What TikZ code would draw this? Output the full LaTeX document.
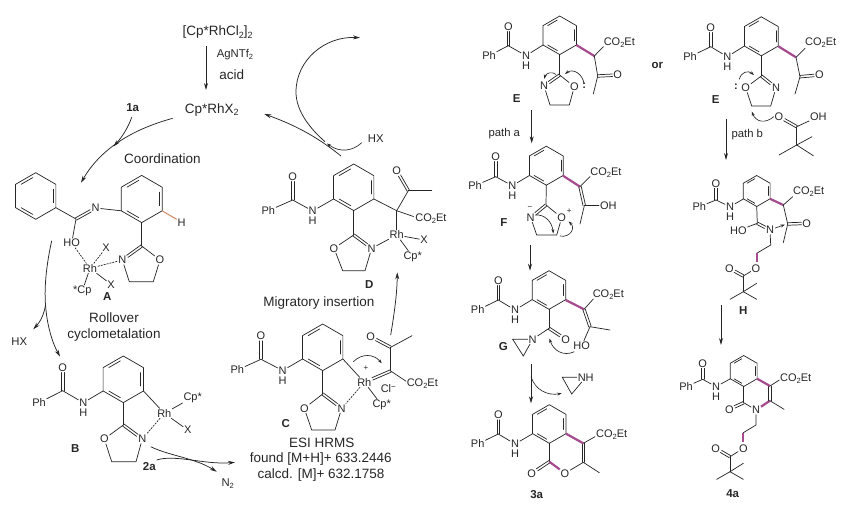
\documentclass[tikz,border=0pt]{standalone}
\usepackage{fontspec}
\setmainfont{Liberation Sans}
\usetikzlibrary{arrows.meta,calc}
\definecolor{ink}{HTML}{262626}
\definecolor{bondpink}{HTML}{A64B8E}
\definecolor{bondorange}{HTML}{D28A62}
\tikzset{
  bond/.style={draw=ink,line width=.72pt,line cap=round},
  dashbond/.style={bond,dash pattern=on 1.6pt off 1.4pt},
  pinkbond/.style={draw=bondpink,line width=2.2pt},
  rxn/.style={draw=ink,line width=.75pt,-{Stealth[length=7pt,width=4pt]}},
  curl/.style={draw=ink,line width=.65pt,-{Stealth[length=4.5pt,width=3pt]}},
  atom/.style={inner sep=.8pt,text=ink,font=\fontsize{11}{11}\selectfont},
  captxt/.style={inner sep=0pt,text=ink,font=\fontsize{13.5}{13.5}\selectfont},
  smalltxt/.style={inner sep=0pt,text=ink,font=\fontsize{11.3}{11.3}\selectfont},
  tagtxt/.style={inner sep=0pt,text=ink,font=\fontsize{11.5}{11.5}\selectfont\bfseries},
}
\newcommand\sbs[1]{\raisebox{-.35ex}{\fontsize{7.5}{7.5}\selectfont #1}}
\newcommand\sbb[1]{\raisebox{-.35ex}{\fontsize{9}{9}\selectfont #1}}
\newcommand\lb[3]{\node[atom] (#1) at (#2) {#3};}
\newcommand\bd[2]{\draw[bond] (#1) -- (#2);}
\newcommand\dbd[2]{%
  \path (#1) -- (#2) coordinate[pos=0] (dbs) coordinate[pos=1] (dbe);
  \draw[bond] ($(dbs)!1.25pt!90:(dbe)$) -- ($(dbe)!1.25pt!-90:(dbs)$);
  \draw[bond] ($(dbs)!1.25pt!-90:(dbe)$) -- ($(dbe)!1.25pt!90:(dbs)$);
}
\newcommand\pk[2]{\draw[pinkbond] (#1) -- (#2);}
\newcommand\benz[3]{%
  \draw[bond,line join=round] (#1,#2) +(-90:#3) -- +(-150:#3) -- +(150:#3) -- +(90:#3) -- +(30:#3) -- +(-30:#3) -- cycle;
  \draw[bond] (#1,#2) +(-99:{.8*#3}) -- +(-141:{.8*#3});
  \draw[bond] (#1,#2) +(21:{.8*#3}) -- +(-21:{.8*#3});
  \draw[bond] (#1,#2) +(141:{.8*#3}) -- +(99:{.8*#3});
}
% prefix, Ph, O, C, N, H, ring vertex
\newcommand\amid[7]{%
  \lb{#1ph}{#2}{Ph}\lb{#1o}{#3}{O}\lb{#1n}{#5}{N}\lb{#1h}{#6}{H}
  \bd{#1ph}{#4}\dbd{#4}{#1o}\bd{#4}{#1n}\bd{#1n}{#7}
}
% prefix, attach vertex, C, O, N, a, b
\newcommand\oxaz[7]{%
  \lb{#1ox}{#4}{O}\lb{#1nx}{#5}{N}
  \bd{#2}{#3}\bd{#3}{#1ox}\dbd{#3}{#1nx}
  \draw[bond] (#1ox) -- (#6) -- (#7) -- (#1nx);
}
\begin{document}
\begin{tikzpicture}[x=1pt,y=-1pt]
\useasboundingbox (0,0) rectangle (850,506);

% ---------- catalytic cycle, text ----------
\node[captxt] (dimer) at (217.7,32.3) {[Cp*RhCl\sbb{2}]\sbb{2}};
\node[smalltxt] (agn) at (235,54.5) {AgNTf\sbs{2}};
\node[captxt] (acid) at (231.7,75) {acid};
\node[captxt] (cat) at (211.7,110) {Cp*RhX\sbb{2}};
\node[tagtxt] (t1a) at (132.7,107.3) {1a};
\node[captxt] (coord) at (162.3,158.3) {Coordination};
\node[captxt] (roll1) at (114,318) {Rollover};
\node[captxt] (roll2) at (114,335) {cyclometalation};
\node[captxt] (migr) at (319,303.3) {Migratory insertion};
\node[captxt] (esi1) at (321.7,443.3) {ESI HRMS};
\node[captxt] (esi2) at (320.8,459.3) {found [M+H]+ 633.2446};
\node[captxt] (esi3) at (321,475.3) {calcd. [M]+ 632.1758};
\node[smalltxt] (hx1) at (19.3,341.7) {HX};
\node[smalltxt] (hx2) at (375.7,138.3) {HX};
\node[smalltxt] (n2) at (227.7,483.3) {N\sbs{2}};
\node[tagtxt] (t2a) at (149.3,466.7) {2a};

% ---------- cycle arrows ----------
\coordinate (k1) at (206,46); \coordinate (k2) at (206,90);
\draw[rxn] (k1) -- (k2);
\coordinate (k3) at (172.7,118.3); \coordinate (k4) at (81,182.7);
\draw[rxn] (k3) .. controls (130,130) and (100,150) .. (k4);
\coordinate (k5) at (131.7,117.3); \coordinate (k6) at (113.5,146.5);
\draw[rxn] (k5) .. controls (128,128) and (122,137) .. (k6);
\coordinate (k7) at (51.7,240.7); \coordinate (k8) at (45.5,305); \coordinate (k9) at (60,356.7);
\draw[rxn] (k7) .. controls (47,262) and (44,285) .. (k8) .. controls (47,325) and (52,342) .. (k9);
\coordinate (k10) at (33.3,329.3);
\draw[rxn] (k8) .. controls (44,315) and (40,322) .. (k10);
\coordinate (k11) at (150.7,446.7); \coordinate (k12) at (216.7,471.7);
\draw[rxn] (k11) .. controls (170,456) and (195,458) .. (k12);
\coordinate (k13) at (156.7,460); \coordinate (k14) at (235,462.3);
\draw[rxn] (k13) .. controls (175,454) and (205,465) .. (k14);
\coordinate (k15) at (390.7,335); \coordinate (k16) at (397.3,272.3);
\draw[rxn] (k15) .. controls (394,315) and (397,295) .. (k16);
\coordinate (k17) at (325,141.7); \coordinate (k18) at (296,92); \coordinate (k19) at (360,37.7);
\draw[rxn] (k17) .. controls (306,125) and (296,108) .. (k18) .. controls (296,60) and (325,36) .. (k19);
\coordinate (k20) at (341,156); \coordinate (k21) at (264.3,114);
\draw[rxn] (k20) .. controls (315,135) and (292,124) .. (k21);
\coordinate (k22) at (361.7,142.7); \coordinate (k23) at (327,143.5);
\draw[curl] (k22) .. controls (353,151) and (340,153) .. (k23);

% ---------- A ----------
\benz{35.7}{196}{23.3}
\benz{141.7}{199}{23.6}
\lb{an}{95.7,208}{N}
\lb{aho}{71.7,243}{HO}
\lb{ah}{181.7,222.3}{H}
\bd{55.9,207.7}{76,219}\dbd{76,219}{an}\bd{76,219}{aho}\bd{an}{121.3,210.8}
\draw[draw=bondorange,line width=1pt] (162.1,210.8) -- (ah);
\oxaz{a}{141.7,222.6}{141.7,246}{160,260}{122.3,260}{153.3,281.7}{129.3,281.7}
\lb{arh}{90,268.3}{Rh}
\lb{axa}{106,247.7}{X}
\lb{axb}{111,284.3}{X}
\lb{acp}{82.3,291}{*Cp}
\draw[dashbond] (aho) -- (arh);
\draw[dashbond] (arh) -- (anx);
\draw[dashbond] (arh) -- (axa);
\bd{arh}{acp}\bd{arh}{axb}
\node[tagtxt] (ta) at (107.3,296.7) {A};

% ---------- B ----------
\benz{123.3}{379.3}{23.3}
\amid{b}{39,402.7}{62.7,367.7}{62.7,390.7}{83.3,402.7}{83.3,412.7}{103.1,391}
\oxaz{b}{123.3,402.6}{123.3,425}{104.3,439}{142.3,439}{111.7,461.7}{136,461.7}
\lb{brh}{164.3,413.3}{Rh}\lb{bcp}{192.7,397.3}{Cp*}\lb{bx}{187.7,430}{X}
\bd{143.5,391}{brh}\bd{brh}{bcp}\bd{brh}{bx}
\draw[dashbond] (brh) -- (bnx);
\node[tagtxt] (tb) at (75.3,448.3) {B};

% ---------- C ----------
\benz{322.7}{347.3}{23.3}
\amid{c}{237.3,370}{261,336}{261,359.3}{282.7,370.5}{282.7,380.5}{302.5,359}
\oxaz{c}{322.7,370.6}{322.7,394}{304.3,408.3}{341.7,408.3}{311.7,430}{335,430}
\lb{crh}{364.3,382.3}{Rh}\lb{ccp}{381.7,405}{Cp*}
\node[atom,font=\fontsize{8}{8}\selectfont] (cplus) at (366,368.3) {+};
\lb{co}{370.7,336.7}{O}
\lb{cco}{422.3,384}{CO\sbs{2}Et}
\lb{ccl}{388.3,389}{Cl\raisebox{.6ex}{\fontsize{8}{8}\selectfont −}}
\bd{342.9,359}{crh}\bd{crh}{ccp}\draw[dashbond] (crh) -- (cnx);
\dbd{crh}{390.7,371}\bd{390.7,371}{390.7,347.3}\dbd{390.7,347.3}{co}
\bd{390.7,347.3}{412,335.7}\bd{390.7,371}{406,381.2}
\coordinate (c1) at (353.3,361.7); \coordinate (c2) at (381.7,363.3);
\draw[curl] (c1) .. controls (362,353) and (374,354) .. (c2);
\node[tagtxt] (tc) at (285.7,423.3) {C};

% ---------- D ----------
\benz{353.7}{187.3}{23.3}
\amid{d}{268.3,210.7}{292.7,176.7}{292.7,200}{312.7,211}{312.7,220.7}{333.5,199}
\oxaz{d}{353.7,210.6}{353.7,235}{334,248.3}{371.7,248.3}{342.7,270.7}{365,270.7}
\lb{drh}{396.7,235}{Rh}\lb{dx}{424,240}{X}\lb{dcp}{412.7,256.7}{Cp*}
\lb{do}{396.7,170.7}{O}\lb{dco}{431,218.3}{CO\sbs{2}Et}
\bd{373.9,199}{396.7,210.7}\bd{396.7,210.7}{drh}\bd{396.7,210.7}{413.5,216.5}
\bd{396.7,210.7}{408.3,190.7}\dbd{408.3,190.7}{do}\bd{408.3,190.7}{431.7,190.7}
\bd{drh}{dnx}\bd{drh}{dx}\bd{drh}{dcp}
\node[tagtxt] (td) at (369.3,284.3) {D};

% ---------- E left ----------
\benz{559.7}{35.3}{19.3}
\amid{e}{489,55.7}{508.3,26.7}{508.3,45.7}{526,55.7}{526,65.7}{543,45}
\oxaz{e}{559.7,54.6}{559.7,75}{574.3,86.7}{544,86}{569.3,105}{550,105}
\node[atom] (ecolon) at (584.3,85.5) {\textbf{:}};
\lb{eo}{617.7,75}{O}\lb{eco}{619.3,42.3}{CO\sbs{2}Et}
\pk{576.4,45}{594.3,56}
\bd{594.3,56}{603.3,46.7}\bd{594.3,56}{597.7,76}\dbd{597.7,76}{eo}\bd{597.7,76}{593.3,94}
\draw[curl] (556,74.5) .. controls (552,71) and (546,73) .. (544,79);
\draw[curl] (584,84) .. controls (583,74) and (573,68) .. (565,74);
\node[tagtxt] (te) at (516.7,98.3) {E};
\coordinate (p1) at (531.7,110); \coordinate (p2) at (531.7,143.3);
\draw[rxn] (p1) -- (p2);
\node[smalltxt] (patha) at (504.3,133.3) {path a};

% ---------- F ----------
\benz{546.3}{165.7}{19.5}
\amid{f}{475,185.7}{495.7,156.7}{495.7,176.7}{512.3,185.7}{512.3,195.7}{529.4,175.5}
\oxaz{f}{546.3,185.2}{546,205}{561.7,217.7}{530.7,217.7}{556.7,235}{536.7,235}
\node[atom,font=\fontsize{8}{8}\selectfont] (fminus) at (530,208.3) {−};
\node[atom,font=\fontsize{8}{8}\selectfont] (fplus) at (569.3,210.7) {+};
\lb{foh}{608.3,205.7}{OH}\lb{fco}{606,172.3}{CO\sbs{2}Et}
\pk{563,175.7}{580,186.7}
\bd{580,186.7}{590,176.7}\dbd{580,186.7}{584.3,205.7}\bd{584.3,205.7}{foh}\bd{584.3,205.7}{580,224}
\draw[curl] (535,215) .. controls (545,214) and (552,222) .. (553.3,233.5);
\draw[curl] (560,236) .. controls (570,238) and (576,228) .. (568.5,221.5);
\node[tagtxt] (tf) at (504,222.3) {F};
\coordinate (p3) at (530,245); \coordinate (p4) at (530,270.7);
\draw[rxn] (p3) -- (p4);

% ---------- G ----------
\benz{549}{290}{19.3}
\amid{g}{477.7,310}{498.3,280.7}{498.3,300}{515,310}{515,320}{532,299.7}
\lb{gn}{532.7,339.3}{N}\lb{go}{565.7,339.3}{O}\lb{gho}{581.7,345.7}{HO}\lb{gco}{608.3,294.3}{CO\sbs{2}Et}
\bd{549,309.3}{549,328.3}\bd{549,328.3}{gn}\dbd{549,328.3}{go}
\draw[bond] (gn) -- (512.7,339.3) -- (523.3,356) -- (gn);
\pk{565.7,300}{584,309.3}
\bd{584,309.3}{593.3,299}\dbd{584,309.3}{590,326.7}\bd{590,326.7}{610,330}\bd{590,326.7}{gho}
\draw[curl] (574.3,351.7) .. controls (563,357) and (553,350) .. (549.5,338.5);
\node[tagtxt] (tg) at (503.3,346.7) {G};
\coordinate (p5) at (531,364); \coordinate (p6) at (531,403.3);
\draw[rxn] (p5) -- (p6);
\coordinate (p7) at (531,376.7); \coordinate (p8) at (561.7,393.3);
\draw[curl] (p7) .. controls (535,390) and (548,396) .. (p8);
\lb{azh}{585.7,377.3}{NH}
\draw[bond] (azh) -- (562.3,377.3) -- (571.7,394) -- (azh);

% ---------- 3a ----------
\benz{549.3}{424}{19.3}
\amid{t}{477.7,444}{498.3,415}{498.3,434}{515,444}{515,454}{532.5,433.8}
\lb{to}{531.7,473.3}{O}\lb{tr}{565,473.3}{O}\lb{tco}{611.7,434.3}{CO\sbs{2}Et}
\bd{549.3,443.3}{549.3,461.7}\dbd{549.3,461.7}{to}\pk{549.3,461.7}{tr}
\bd{tr}{583.3,462.3}\dbd{583.3,462.3}{583.3,443.3}
\pk{566,433.7}{583.3,443.3}
\bd{583.3,443.3}{595,436.7}\bd{583.3,462.3}{599.3,472.7}
\node[tagtxt] (t3a) at (536.7,495) {3a};

% ---------- or ----------
\node[tagtxt] (tor) at (657.3,65) {or};

% ---------- E right ----------
\benz{761.3}{36.3}{19.5}
\amid{r}{690,56.7}{710.7,27.7}{710.7,46.7}{727.3,56.7}{727.3,66.7}{744.4,46}
\oxaz{r}{761.3,55.8}{761.3,76}{745.7,87.7}{776,87.7}{751.7,106}{770.7,106}
\node[atom] (rcolon) at (736,87.2) {\textbf{:}};
\lb{reo}{819.3,75}{O}\lb{rco}{820.7,42.3}{CO\sbs{2}Et}
\pk{778.3,46.3}{796,57.3}
\bd{796,57.3}{805,48.3}\bd{796,57.3}{800,76.7}\dbd{800,76.7}{reo}\bd{800,76.7}{795,94}
\draw[curl] (739.3,79.3) .. controls (741,72) and (748,70) .. (754,75);
\lb{ro}{779,116.7}{O}\lb{roh}{818.3,116.7}{OH}
\dbd{ro}{796.7,126.7}\bd{796.7,126.7}{roh}\bd{796.7,126.7}{796.7,145}
\bd{796.7,145}{779,155}\bd{796.7,145}{813.3,155.7}\bd{796.7,145}{812,136.7}
\draw[curl] (ro.west) .. controls (765,124) and (756,122) .. (751.7,111.5);
\node[tagtxt] (te2) at (715.7,100) {E};
\coordinate (p9) at (726,119.3); \coordinate (p10) at (726,160);
\draw[rxn] (p9) -- (p10);
\node[smalltxt] (pathb) at (747.3,135) {path b};

% ---------- H ----------
\benz{756.7}{191}{15.5}
\amid{h}{699.3,206.7}{716,183.3}{716,200}{730,206.7}{730,216.7}{743.3,199}
\lb{hho}{738.3,230.5}{HO}\lb{hn}{770,230}{N}\lb{hko}{806.7,223.3}{O}\lb{hco}{808.7,191.7}{CO\sbs{2}Et}
\bd{756.7,206.5}{757.3,223.3}\bd{757.3,223.3}{hho}\dbd{757.3,223.3}{hn}
\draw[bond] (hn) -- (770.7,245) -- (756.7,253.3);
\pk{756.7,253.3}{756.7,261.7}
\pk{770,198.8}{783.3,205}
\bd{783.3,205}{792.7,196.7}\bd{783.3,205}{787.7,224}\dbd{787.7,224}{hko}\bd{787.7,224}{783.3,242.7}
\draw[curl] (hn) -- (785,224.5);
\lb{ho1}{756,268.3}{O}\lb{ho2}{729.3,268.3}{O}
\bd{ho1}{743.3,276}\dbd{743.3,276}{ho2}\bd{743.3,276}{743.3,291.7}
\bd{743.3,291.7}{730,299.3}\bd{743.3,291.7}{756.7,299.3}\bd{743.3,291.7}{756.7,283.3}
\node[tagtxt] (th) at (743.3,310.7) {H};
\coordinate (p11) at (721,305); \coordinate (p12) at (721,345);
\draw[rxn] (p11) -- (p12);

% ---------- 4a ----------
\benz{743.7}{371}{15.5}
\amid{v}{686,386.7}{702.7,363.3}{702.7,379.3}{716,386.7}{716,396.7}{730.3,378.8}
\lb{vo}{729.3,409.3}{O}\lb{vn}{756,410}{N}\lb{vco}{795.7,379}{CO\sbs{2}Et}
\bd{743.7,386.5}{743.7,402.7}\dbd{743.7,402.7}{vo}\bd{743.7,402.7}{vn}
\pk{vn}{770,400.7}\dbd{770,400.7}{770,386}
\pk{757.1,378.7}{770,386}
\bd{770,386}{779.3,380}\bd{770,400.7}{784,409.3}
\draw[bond] (vn) -- (756,425) -- (743.3,432.7);
\pk{743.3,432.7}{743.3,441.7}
\lb{vo1}{743.3,448.3}{O}\lb{vo2}{715.7,448.3}{O}
\bd{vo1}{730,456.7}\dbd{730,456.7}{vo2}\bd{730,456.7}{730,471.7}
\bd{730,471.7}{716.7,479.3}\bd{730,471.7}{743.3,479.3}\bd{730,471.7}{743.3,463.3}
\node[tagtxt] (t4a) at (732.7,493.3) {4a};
\end{tikzpicture}
\end{document}
